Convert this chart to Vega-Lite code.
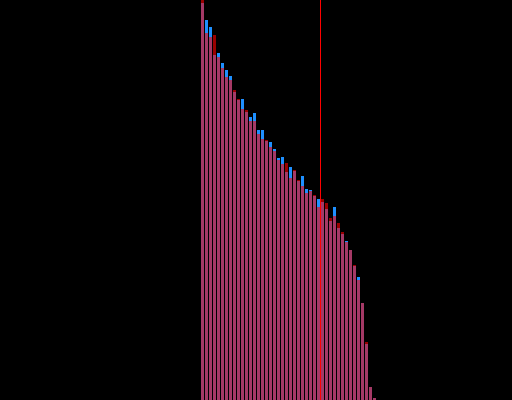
{
  "$schema": "https://vega.github.io/schema/vega-lite/v6.json",
  "autosize": {"type": "none"},
  "width": 512,
  "height": 400,
  "padding": 0,
  "background": "black",
  "config": {"view": {"stroke": null}},
  "datasets": {
    "bars": [
      {"i": 0, "blue": 397, "red": 400},
      {"i": 1, "blue": 380, "red": 367},
      {"i": 2, "blue": 373, "red": 363},
      {"i": 3, "blue": 345, "red": 365},
      {"i": 4, "blue": 347, "red": 343},
      {"i": 5, "blue": 337, "red": 332},
      {"i": 6, "blue": 330, "red": 323},
      {"i": 7, "blue": 324, "red": 320},
      {"i": 8, "blue": 308, "red": 310},
      {"i": 9, "blue": 300, "red": 301},
      {"i": 10, "blue": 301, "red": 291},
      {"i": 11, "blue": 288, "red": 290},
      {"i": 12, "blue": 283, "red": 279},
      {"i": 13, "blue": 287, "red": 279},
      {"i": 14, "blue": 270, "red": 266},
      {"i": 15, "blue": 270, "red": 261},
      {"i": 16, "blue": 259, "red": 260},
      {"i": 17, "blue": 258, "red": 253},
      {"i": 18, "blue": 251, "red": 249},
      {"i": 19, "blue": 242, "red": 240},
      {"i": 20, "blue": 243, "red": 236},
      {"i": 21, "blue": 228, "red": 237},
      {"i": 22, "blue": 233, "red": 222},
      {"i": 23, "blue": 229, "red": 230},
      {"i": 24, "blue": 219, "red": 220},
      {"i": 25, "blue": 224, "red": 214},
      {"i": 26, "blue": 211, "red": 207},
      {"i": 27, "blue": 210, "red": 209},
      {"i": 28, "blue": 204, "red": 205},
      {"i": 29, "blue": 201, "red": 193},
      {"i": 30, "blue": 198, "red": 201},
      {"i": 31, "blue": 191, "red": 197},
      {"i": 32, "blue": 179, "red": 182},
      {"i": 33, "blue": 193, "red": 184},
      {"i": 34, "blue": 172, "red": 177},
      {"i": 35, "blue": 166, "red": 168},
      {"i": 36, "blue": 159, "red": 158},
      {"i": 37, "blue": 150, "red": 150},
      {"i": 38, "blue": 134, "red": 135},
      {"i": 39, "blue": 123, "red": 120},
      {"i": 40, "blue": 97, "red": 97},
      {"i": 41, "blue": 56, "red": 58},
      {"i": 42, "blue": 13, "red": 13},
      {"i": 43, "blue": 2, "red": 2}
    ],
    "marker": [{"pos": 29.5}]
  },
  "layer": [
    {
      "data": {"name": "bars"},
      "mark": {"type": "bar", "width": 3, "color": "#1e90ff", "clip": true},
      "encoding": {
        "x": {"field": "i", "type": "quantitative", "scale": {"domain": [-50.625, 77.375], "nice": false, "zero": false, "padding": 0}, "axis": null},
        "y": {"field": "blue", "type": "quantitative", "scale": {"domain": [0, 400], "nice": false}, "axis": null}
      }
    },
    {
      "data": {"name": "bars"},
      "mark": {"type": "bar", "width": 3, "color": "#ff0000", "opacity": 0.6, "clip": true},
      "encoding": {
        "x": {"field": "i", "type": "quantitative"},
        "y": {"field": "red", "type": "quantitative"}
      }
    },
    {
      "data": {"name": "marker"},
      "mark": {"type": "rule", "color": "#ff0000", "strokeWidth": 1},
      "encoding": {
        "x": {"field": "pos", "type": "quantitative"}
      }
    }
  ]
}
